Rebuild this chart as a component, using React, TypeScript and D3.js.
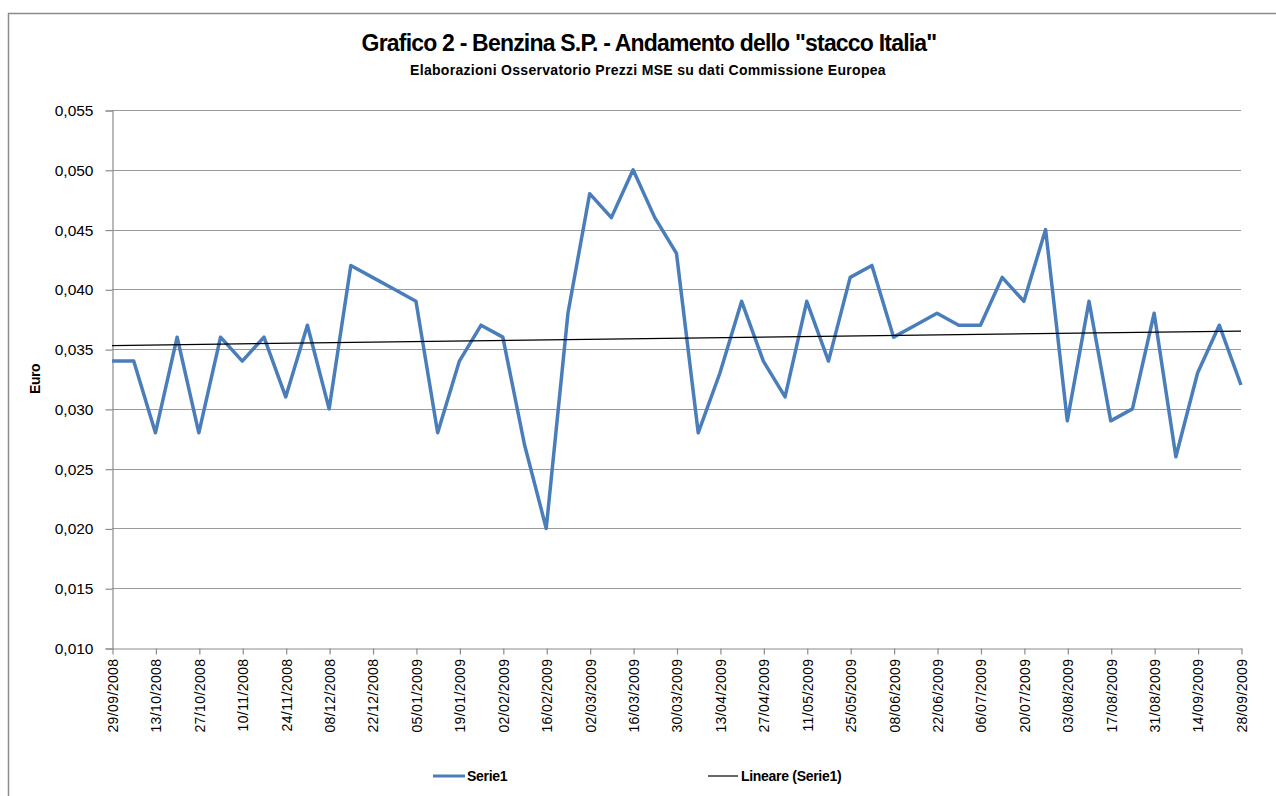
import React, { useEffect, useRef } from 'react';
import * as d3 from 'd3';

// weekly dates (Monday) of the series
const dates = [
  '29/09/2008', '06/10/2008', '13/10/2008', '20/10/2008', '27/10/2008', '03/11/2008', '10/11/2008',
  '17/11/2008', '24/11/2008', '01/12/2008', '08/12/2008', '15/12/2008', '22/12/2008', '29/12/2008',
  '05/01/2009', '12/01/2009', '19/01/2009', '26/01/2009', '02/02/2009', '09/02/2009', '16/02/2009',
  '23/02/2009', '02/03/2009', '09/03/2009', '16/03/2009', '23/03/2009', '30/03/2009', '06/04/2009',
  '13/04/2009', '20/04/2009', '27/04/2009', '04/05/2009', '11/05/2009', '18/05/2009', '25/05/2009',
  '01/06/2009', '08/06/2009', '15/06/2009', '22/06/2009', '29/06/2009', '06/07/2009', '13/07/2009',
  '20/07/2009', '27/07/2009', '03/08/2009', '10/08/2009', '17/08/2009', '24/08/2009', '31/08/2009',
  '07/09/2009', '14/09/2009', '21/09/2009', '28/09/2009'
];

// stacco Italia, euro
const serie1 = [
  0.034, 0.034, 0.028, 0.036, 0.028, 0.036, 0.034, 0.036, 0.031, 0.037,
  0.030, 0.042, 0.041, 0.040, 0.039, 0.028, 0.034, 0.037, 0.036, 0.027,
  0.020, 0.038, 0.048, 0.046, 0.050, 0.046, 0.043, 0.028, 0.033, 0.039,
  0.034, 0.031, 0.039, 0.034, 0.041, 0.042, 0.036, 0.037, 0.038, 0.037,
  0.037, 0.041, 0.039, 0.045, 0.029, 0.039, 0.029, 0.030, 0.038, 0.026,
  0.033, 0.037, 0.032
];

const yTicks = [0.010, 0.015, 0.020, 0.025, 0.030, 0.035, 0.040, 0.045, 0.050, 0.055];

const FONT = '"Liberation Sans", Arial, sans-serif';
const BLUE = '#4a7ebb';

export default function App() {
  const svgRef = useRef<SVGSVGElement>(null);

  useEffect(() => {
    if (!svgRef.current) return;
    const svg = d3.select(svgRef.current);
    svg.selectAll('*').remove();

    const W = 1276;
    const H = 796;
    const left = 112, right = 1241, top = 110, bottom = 648;

    const x = d3.scalePoint<number>()
      .domain(d3.range(dates.length))
      .range([left, right]);
    const y = d3.scaleLinear().domain([0.010, 0.055]).range([bottom, top]);

    svg.append('rect').attr('width', W).attr('height', H).attr('fill', '#fff');

    // outer frame
    svg.append('path')
      .attr('d', `M8.5,${H}V13.5H${W}`)
      .attr('fill', 'none')
      .attr('stroke', '#8c8c8c')
      .attr('stroke-width', 1.5);

    // title
    svg.append('text')
      .attr('x', 649).attr('y', 51)
      .attr('text-anchor', 'middle')
      .style('font-family', FONT)
      .style('font-size', '23px')
      .style('font-weight', 'bold')
      .style('letter-spacing', '-0.8px')
      .text('Grafico 2 - Benzina S.P. - Andamento dello "stacco Italia"');

    svg.append('text')
      .attr('x', 648).attr('y', 75)
      .attr('text-anchor', 'middle')
      .style('font-family', FONT)
      .style('font-size', '14px')
      .style('font-weight', 'bold')
      .style('letter-spacing', '0.3px')
      .text('Elaborazioni Osservatorio Prezzi MSE su dati Commissione Europea');

    // gridlines
    svg.append('g')
      .selectAll('line')
      .data(yTicks.slice(1))
      .enter().append('line')
      .attr('x1', left).attr('x2', right)
      .attr('y1', d => Math.round(y(d)) + 0.5)
      .attr('y2', d => Math.round(y(d)) + 0.5)
      .attr('stroke', '#9a9a9a')
      .attr('stroke-width', 1.2);

    // y axis
    const yAxis = d3.axisLeft(y)
      .tickValues(yTicks)
      .tickSize(7)
      .tickPadding(12)
      .tickFormat(d => (d as number).toFixed(3).replace('.', ','));
    const gy = svg.append('g')
      .attr('transform', `translate(${left + 0.5},0.5)`)
      .call(yAxis);
    gy.selectAll('path, line').attr('stroke', '#8c8c8c').attr('stroke-width', 1.2);
    gy.selectAll('text')
      .style('font-family', FONT)
      .style('font-size', '15.5px')
      .attr('fill', '#000');

    // x axis
    const xAxis = d3.axisBottom(x)
      .tickValues(d3.range(0, dates.length, 2))
      .tickSize(6)
      .tickSizeOuter(0)
      .tickFormat(i => dates[i as number]);
    const gx = svg.append('g')
      .attr('transform', `translate(0.5,${bottom + 0.5})`)
      .call(xAxis);
    gx.selectAll('path, line').attr('stroke', '#8c8c8c').attr('stroke-width', 1.2);
    gx.selectAll('text')
      .style('font-family', FONT)
      .style('font-size', '14px')
      .style('letter-spacing', '0.4px')
      .attr('fill', '#000')
      .attr('text-anchor', 'end')
      .attr('transform', 'rotate(-90)')
      .attr('x', -10)
      .attr('y', 0)
      .attr('dy', '0.35em');

    // y title
    svg.append('text')
      .attr('transform', `translate(40,${(top + bottom) / 2}) rotate(-90)`)
      .attr('text-anchor', 'middle')
      .style('font-family', FONT)
      .style('font-size', '14px')
      .style('font-weight', 'bold')
      .style('letter-spacing', '-0.5px')
      .text('Euro');

    // series line
    const line = d3.line<number>()
      .x((_, i) => x(i) as number)
      .y(d => y(d));
    svg.append('path')
      .datum(serie1)
      .attr('d', line)
      .attr('fill', 'none')
      .attr('stroke', BLUE)
      .attr('stroke-width', 3.5)
      .attr('stroke-linejoin', 'round');

    // linear trend (least squares)
    const n = serie1.length;
    const idx = d3.range(n).map(i => i + 1);
    const mx = d3.mean(idx) as number;
    const my = d3.mean(serie1) as number;
    let sxy = 0, sxx = 0;
    idx.forEach((t, i) => { sxy += (t - mx) * (serie1[i] - my); sxx += (t - mx) * (t - mx); });
    const slope = sxy / sxx;
    const icpt = my - slope * mx;
    svg.append('line')
      .attr('x1', x(0) as number).attr('y1', y(icpt + slope * 1))
      .attr('x2', x(n - 1) as number).attr('y2', y(icpt + slope * n))
      .attr('stroke', '#000')
      .attr('stroke-width', 1.2);

    // legend
    const lg = svg.append('g')
      .style('font-family', FONT)
      .style('font-size', '14px')
      .style('font-weight', 'bold')
      .style('letter-spacing', '-0.3px');
    lg.append('line')
      .attr('x1', 433).attr('x2', 465).attr('y1', 776).attr('y2', 776)
      .attr('stroke', BLUE).attr('stroke-width', 3);
    lg.append('text').attr('x', 467).attr('y', 781).text('Serie1');
    lg.append('line')
      .attr('x1', 708).attr('x2', 738).attr('y1', 776).attr('y2', 776)
      .attr('stroke', '#000').attr('stroke-width', 1.2);
    lg.append('text').attr('x', 741).attr('y', 781).text('Lineare (Serie1)');
  }, []);

  return (
    <svg
      ref={svgRef}
      width={1276}
      height={796}
      style={{ position: 'absolute', left: 0, top: 0 }}
    />
  );
}
